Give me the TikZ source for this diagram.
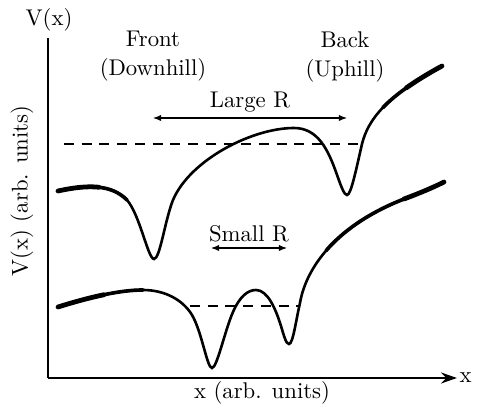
\documentclass[tikz,border=0pt]{standalone}
\usepackage{tikz}
\usetikzlibrary{arrows.meta}

\begin{document}
\begin{tikzpicture}[
      x=0.44pt, y=-0.44pt,
      axs/.style={line width=1.3pt, -{Stealth[length=7pt, width=4.8pt]}},
      crv/.style={line width=1.15pt},
      crvmid/.style={line width=1.6pt, line cap=round},
      crvend/.style={line width=2.1pt, line cap=round},
      lvl/.style={line width=0.9pt, dash pattern=on 4.4pt off 3.4pt},
      rarr/.style={line width=0.5pt, {Latex[length=3.6pt, width=2.8pt]}-{Latex[length=3.6pt, width=2.8pt]}},
      lbl/.style={inner sep=1pt, align=center}
    ]
      \useasboundingbox (0,0) rectangle (477,407);

      % Axes
      \coordinate (ytop) at (48,38);
      \coordinate (orig) at (48,378);
      \coordinate (xend) at (457,378);
      \draw[line width=1.3pt] (ytop) -- (orig);
      \draw[axs] (orig) -- (xend);
      \node[lbl, anchor=west] (xlab) at (xend) {x};
      \node[lbl] (vlab) at (49,20) {V(x)};
      \node[lbl, rotate=90] (ylab) at (22,191) {V(x) (arb. units)};
      \node[lbl] (xunits) at (262,393) {x (arb. units)};

      % Labels
      \node[lbl] (front) at (153,56) {Front\\[1pt](Downhill)};
      \node[lbl] (back) at (345,57) {Back\\[1pt](Uphill)};
      \node[lbl] (large) at (250,102) {Large R};
      \node[lbl] (small) at (249,234) {Small R};

      % Separation arrows
      \coordinate (la) at (153,118);
      \coordinate (lb) at (347,118);
      \draw[rarr] (la) -- (lb);
      \coordinate (sa) at (211,248);
      \coordinate (sb) at (287,248);
      \draw[rarr] (sa) -- (sb);

      % Energy levels
      \coordinate (ua) at (64,144);
      \coordinate (ub) at (362,144);
      \draw[lvl] (ua) -- (ub);
      \coordinate (da) at (190,306);
      \coordinate (db) at (299,306);
      \draw[lvl] (da) -- (db);

      % Large R potential
      \draw[crv] (58,191) .. controls (90,184) and (112,185) .. (127,200)
        .. controls (140,215) and (148,259) .. (154,259)
        .. controls (160,259) and (165,220) .. (173,200)
        .. controls (190,160) and (252,128) .. (294,128)
        .. controls (318,128) and (328,150) .. (336,172)
        .. controls (341,186) and (344,195) .. (347,195)
        .. controls (351,195) and (356,170) .. (362,144)
        .. controls (368,120) and (385,97) .. (442,66);
      \draw[crvmid] (58,191) .. controls (90,184) and (112,185) .. (127,200);
      \draw[crvend] (58,191) .. controls (74,187.5) and (87.5,186) .. (98.9,187.25);
      \draw[crvmid] (382.9,107.6) .. controls (395,95) and (413.5,81.5) .. (442,66);
      \draw[crvend] (406.3,87.9) .. controls (416,81) and (427.75,73.75) .. (442,66);

      % Small R potential
      \draw[crv] (58,307) .. controls (90,297) and (120,290) .. (143,290)
        .. controls (165,290) and (183,300) .. (192,315)
        .. controls (202,332) and (207,368) .. (212,368)
        .. controls (217,368) and (225,330) .. (233,312)
        .. controls (240,296) and (248,290) .. (256,290)
        .. controls (268,290) and (276,310) .. (281,326)
        .. controls (284,336) and (286,344) .. (289,344)
        .. controls (293,344) and (296,320) .. (300,303)
        .. controls (305,273) and (330,228) .. (404,199)
        .. controls (420,193) and (432,188) .. (444,182);
      \draw[crvmid] (58,307) .. controls (90,297) and (120,290) .. (143,290);
      \draw[crvend] (58,307) .. controls (74,302) and (89.5,297.75) .. (103.9,294.75);
      \draw[crvmid] (326.1,250.6) .. controls (342.25,232) and (367,213.5) .. (404,199);
      \draw[crvend] (404,199) .. controls (420,193) and (432,188) .. (444,182);
    \end{tikzpicture}
\end{document}
